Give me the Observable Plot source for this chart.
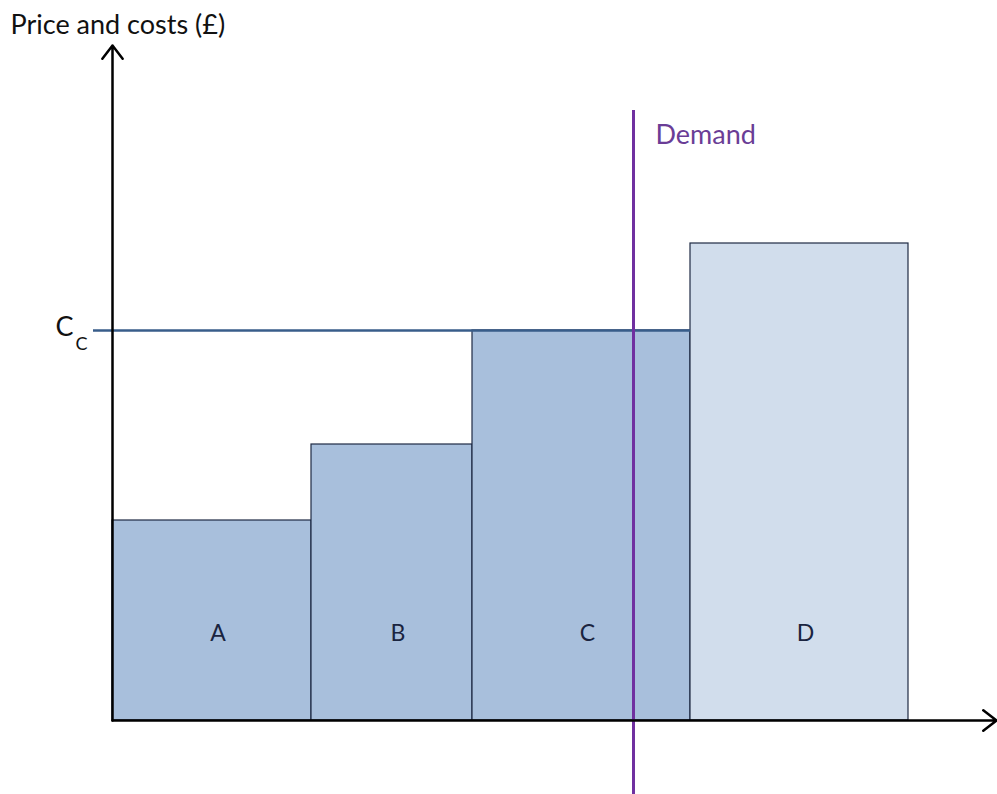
<!DOCTYPE html>
<html>
<head>
<meta charset="utf-8">
<script src="https://cdn.jsdelivr.net/npm/d3@7"></script>
<script src="https://cdn.jsdelivr.net/npm/@observablehq/plot@0.6"></script>
<style>
  html, body { margin: 0; padding: 0; background: #fff; }
  #chart svg { display: block; }
</style>
</head>
<body>
<div id="chart"></div>
<script>
// Data
const segments = ["A", "B", "C", "D"];
const capStart = [0, 19.9, 36, 57.8];
const capEnd = [19.9, 36, 57.8, 79.6];
const cost = [20, 27.6, 39, 47.7];
const segFill = ["#a8bfdc", "#a8bfdc", "#a8bfdc", "#d1ddec"];
const ccLevel = 39;
const ccLabel = "C";
const ccSub = "C";
const demandQ = 52.1;
const demandLabel = "Demand";
const yTitle = "Price and costs (£)";

const bars = segments.map((s, i) => ({
  seg: s, x1: capStart[i], x2: capEnd[i], y: cost[i], fill: segFill[i],
  mid: (capStart[i] + capEnd[i]) / 2
}));

const font = "Lato, 'Open Sans', sans-serif";

const chart = Plot.plot({
  width: 997,
  height: 794,
  marginLeft: 112,
  marginRight: 0,
  marginTop: 0,
  marginBottom: 74,
  x: { domain: [0, 88.5], axis: null },
  y: { domain: [0, 72], axis: null },
  style: { fontFamily: font, background: "#fff" },
  marks: [
    Plot.rectY(bars, { x1: "x1", x2: "x2", y1: 0, y2: "y", fill: "fill", stroke: "#1e2a44", strokeWidth: 1.2 }),
    Plot.text(bars, { x: "mid", y: 8.7, dx: 6, text: "seg", fill: "#1a2440", fontSize: 23, fontFamily: font }),
    Plot.ruleY([ccLevel], { x1: -1.9, x2: capEnd[2], stroke: "#385d8a", strokeWidth: 2.5 }),
    Plot.ruleX([demandQ], { y1: 61, y2: -7.4, stroke: "#7030a0", strokeWidth: 3 }),
    Plot.text([demandLabel], { x: demandQ + 2.2, y: 58.5, text: d => d, textAnchor: "start", fill: "#6a3d96", fontSize: 27, fontFamily: font }),
    Plot.arrow([0], { x1: 0, y1: 0, x2: 0, y2: 67.5, stroke: "#000", strokeWidth: 2.5, headLength: 10, headAngle: 75 }),
    Plot.arrow([0], { x1: 0, y1: 0, x2: 88.4, y2: 0, stroke: "#000", strokeWidth: 2.5, headLength: 10, headAngle: 75 }),
    Plot.text([ccLabel], { x: -3.9, y: ccLevel + 0.3, text: d => d, textAnchor: "end", fill: "#111", fontSize: 27, fontFamily: font }),
    Plot.text([ccSub], { x: -2.5, y: ccLevel - 1.4, text: d => d, textAnchor: "end", fill: "#111", fontSize: 18, fontFamily: font }),
    Plot.text([yTitle], { x: -10.2, y: 69.5, text: d => d, textAnchor: "start", fill: "#111", fontSize: 27, fontFamily: font })
  ]
});

document.getElementById("chart").appendChild(chart);
</script>
</body>
</html>
